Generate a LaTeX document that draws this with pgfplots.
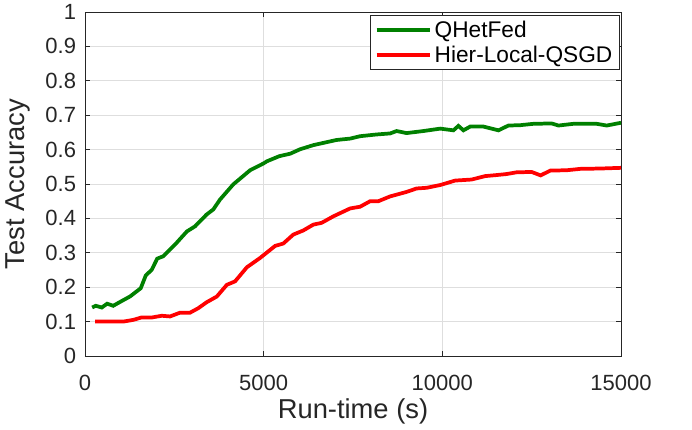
\documentclass[border=0pt]{standalone}
\usepackage{fontspec}
\setmainfont{Liberation Sans}
\usepackage{pgfplots}
\pgfplotsset{compat=1.18}
\definecolor{mgreen}{rgb}{0,0.5,0}
\definecolor{axgray}{gray}{0.15}
\definecolor{gridgray}{gray}{0.87}
\begin{document}
\begin{tikzpicture}
\begin{axis}[
  scale only axis,
  width=402pt, height=258pt,
  xmin=0, xmax=15000, ymin=0, ymax=1,
  xtick={0,5000,10000,15000},
  ytick={0,0.1,...,1.0},
  yticklabels={0,0.1,0.2,0.3,0.4,0.5,0.6,0.7,0.8,0.9,1},
  scaled x ticks=false,
  /pgf/number format/assume math mode=true,
  xticklabel style={/pgf/number format/fixed,/pgf/number format/1000 sep={}},
  tick label style={font=\fontsize{16.5}{19}\selectfont, text=black!85},
  xticklabel style={anchor=base, yshift=-26pt},
  yticklabel style={anchor=east, inner xsep=0pt, xshift=-6.5pt},
  xlabel={Run-time (s)}, ylabel={Test Accuracy},
  label style={font=\fontsize{20.5}{24}\selectfont, text=black!85},
  xlabel style={at={(axis description cs:0.5,-0.1831)}, anchor=base},
  ylabel style={at={(axis description cs:-0.1138,0.5)}, anchor=base},
  axis line style={axgray, line width=0.6pt},
  tick style={axgray, line width=0.6pt},
  tick align=inside,
  major tick length=4pt,
  grid=major,
  major grid style={gridgray, line width=0.6pt},
  legend style={at={(rel axis cs:0.997,0.991)}, anchor=north east,
    font=\fontsize{17}{20}\selectfont, draw=axgray, line width=0.6pt,
    inner xsep=3pt, inner ysep=2pt, row sep=1pt},
  legend cell align=left,
  legend image code/.code={\draw[#1, line width=3pt] (0pt,0pt) -- (40pt,0pt);},
]
\addplot[mgreen, line width=2.8pt] coordinates {
(200,0.141)(300,0.146)(470,0.141)(620,0.152)(790,0.146)(1030,0.160)(1260,0.173)(1560,0.197)(1700,0.234)(1870,0.251)(2020,0.283)(2190,0.290)(2520,0.324)(2850,0.362)(3080,0.377)(3400,0.411)(3590,0.426)(3780,0.455)(4150,0.499)(4620,0.540)(5000,0.560)(5090,0.566)(5440,0.581)(5740,0.588)(6020,0.601)(6390,0.613)(7040,0.628)(7420,0.632)(7700,0.639)(8160,0.644)(8540,0.647)(8720,0.654)(9000,0.648)(9470,0.654)(9940,0.661)(10310,0.656)(10450,0.669)(10590,0.656)(10780,0.667)(11150,0.667)(11570,0.656)(11850,0.670)(12180,0.671)(12550,0.675)(13060,0.676)(13250,0.670)(13670,0.675)(14320,0.675)(14600,0.670)(15000,0.678)
};
\addlegendentry{QHetFed}
\addplot[red, line width=2.8pt] coordinates {
(280,0.100)(1070,0.100)(1350,0.105)(1580,0.112)(1870,0.112)(2150,0.117)(2380,0.115)(2660,0.126)(2940,0.126)(3170,0.139)(3400,0.156)(3690,0.173)(3970,0.207)(4200,0.217)(4530,0.258)(4900,0.285)(5320,0.320)(5550,0.327)(5830,0.353)(6110,0.365)(6390,0.382)(6620,0.387)(6950,0.406)(7420,0.429)(7700,0.434)(7980,0.450)(8210,0.450)(8540,0.464)(9000,0.477)(9280,0.487)(9560,0.489)(9940,0.497)(10360,0.510)(10820,0.513)(11200,0.523)(11520,0.526)(11800,0.529)(12080,0.534)(12500,0.535)(12750,0.525)(13020,0.539)(13480,0.540)(13860,0.544)(14420,0.545)(15000,0.547)
};
\addlegendentry{Hier-Local-QSGD}
\end{axis}
\useasboundingbox (current axis.south west) ++(-63.75pt,-51pt) rectangle ([shift={(53.25pt,8.25pt)}]current axis.north east);
\end{tikzpicture}
\end{document}
